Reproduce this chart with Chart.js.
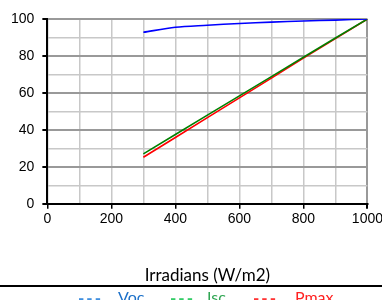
<!DOCTYPE html>
<html>
<head>
<meta charset="utf-8">
<script src="https://cdn.jsdelivr.net/npm/chart.js"></script>
<style>
  body { margin: 0; background: #fff; }
  #wrap { position: relative; width: 382px; height: 300px; overflow: hidden; }
  #box { position: absolute; left: 0; top: 0; width: 385px; height: 286px; }
  #rule { position: absolute; left: 0; top: 285px; width: 382px; height: 2px; background: #000; }
  .leg { position: absolute; top: 287px; font: 16px Lato, sans-serif; white-space: nowrap; }
  .dash { letter-spacing: 2px; font-size: 17px; font-weight: bold; }
</style>
</head>
<body>
<div id="wrap">
  <div id="box"><canvas id="lineChart"></canvas></div>
  <div id="rule"></div>
  <span class="leg dash" style="left:78px;color:#3f8fdf">---</span>
  <span class="leg" style="left:118px;color:#1a6fc8">Voc</span>
  <span class="leg dash" style="left:170px;color:#33cc66">---</span>
  <span class="leg" style="left:207px;color:#2fa552">Isc</span>
  <span class="leg dash" style="left:253px;color:#ff3333">---</span>
  <span class="leg" style="left:295px;color:#ff2020">Pmax</span>
</div>
<script>
    const irradiance = [300, 400, 500, 600, 700, 800, 900, 1000];
    const voc  = [92.8, 95.5, 96.6, 97.6, 98.3, 98.9, 99.4, 100];
    const isc  = [27.0, 37.5, 48.0, 58.4, 68.8, 79.3, 89.7, 100];
    const pmax = [25.2, 35.9, 46.6, 57.3, 68.0, 78.8, 89.4, 100];

    const pts = arr => arr.map((v, i) => ({ x: irradiance[i], y: v }));

    const ctx = document.getElementById('lineChart').getContext('2d');
    const lineChart = new Chart(ctx, {
        type: 'line',
        data: {
            datasets: [
                { label: 'Voc', data: pts(voc), borderColor: '#0000ff', borderWidth: 1.6, pointRadius: 0, tension: 0.3 },
                { label: 'Isc', data: pts(isc), borderColor: '#008000', borderWidth: 1.6, pointRadius: 0 },
                { label: 'Pmax', data: pts(pmax), borderColor: '#ff0000', borderWidth: 1.6, pointRadius: 0 }
            ]
        },
        options: {
            responsive: true,
            maintainAspectRatio: false,
            animation: false,
            layout: { padding: { left: 3, top: 19, right: 0, bottom: 0 } },
            plugins: { legend: { display: false }, tooltip: { enabled: false } },
            scales: {
                x: {
                    type: 'linear',
                    min: 0, max: 1000,
                    ticks: {
                        stepSize: 100,
                        autoSkip: false,
                        maxRotation: 0,
                        padding: 2,
                        color: '#000',
                        font: { family: 'Liberation Sans', size: 14 },
                        callback: v => v % 200 === 0 ? v : ''
                    },
                    grid: {
                        color: c => c.tick.value === 1000 ? '#999' : '#c8c8c8',
                        lineWidth: c => c.tick.value === 1000 ? 2 : 1.5,
                        tickColor: c => c.tick.value % 200 === 0 ? '#000' : 'rgba(0,0,0,0)',
                        tickLength: 5
                    },
                    border: { color: '#000', width: 2 },
                    title: {
                        display: true,
                        text: 'Irradians (W/m2)',
                        color: '#000',
                        font: { family: 'Lato', size: 17 },
                        padding: { top: 36, bottom: 0 }
                    }
                },
                y: {
                    min: 0, max: 100,
                    ticks: {
                        stepSize: 10,
                        autoSkip: false,
                        padding: 8,
                        color: '#000',
                        font: { family: 'Liberation Sans', size: 14 },
                        callback: v => v % 20 === 0 ? v : ''
                    },
                    grid: {
                        color: c => c.tick.value % 20 === 0 ? '#999' : '#c8c8c8',
                        lineWidth: c => c.tick.value % 20 === 0 ? 2 : 1.5,
                        tickColor: c => c.tick.value % 20 === 0 ? '#000' : 'rgba(0,0,0,0)',
                        tickLength: 5
                    },
                    border: { color: '#000', width: 2 }
                }
            }
        }
    });
</script>
</body>
</html>
